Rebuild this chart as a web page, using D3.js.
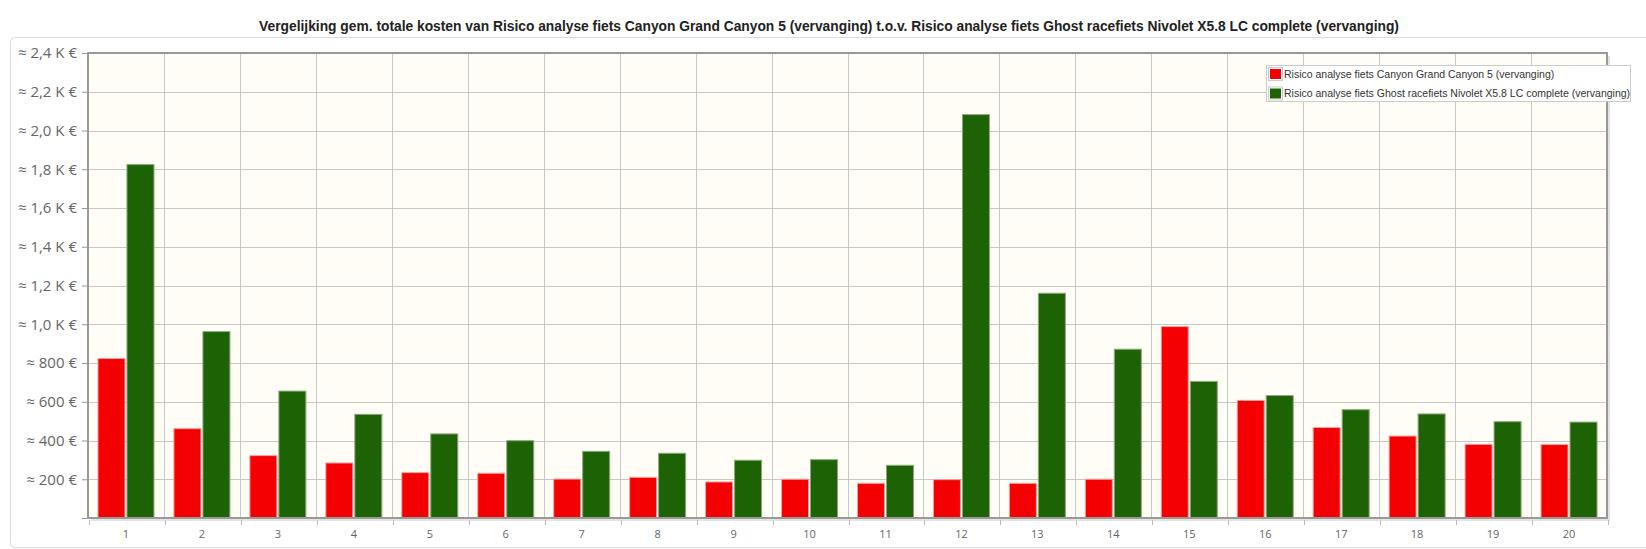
<!DOCTYPE html>
<html>
<head>
<meta charset="utf-8">
<title>Vergelijking gem. totale kosten</title>
<style>
  body { margin: 0; background: #fff; }
  text { font-family: "Liberation Sans", Arial, sans-serif; }
</style>
</head>
<body>
<script src="https://cdn.jsdelivr.net/npm/d3@7/dist/d3.min.js"></script>
<script>
// data
const categories = ["1","2","3","4","5","6","7","8","9","10","11","12","13","14","15","16","17","18","19","20"];
const canyon = [823, 461, 322, 284, 234, 231, 201, 210, 186, 200, 179, 198, 179, 200, 988, 607, 467, 423, 380, 379];
const ghost  = [1824, 962, 655, 535, 434, 399, 344, 334, 298, 301, 272, 2082, 1160, 871, 705, 632, 559, 537, 497, 495];
const seriesNames = [
  "Risico analyse fiets Canyon Grand Canyon 5 (vervanging)",
  "Risico analyse fiets Ghost racefiets Nivolet X5.8 LC complete (vervanging)"
];
const yTicks = [200, 400, 600, 800, 1000, 1200, 1400, 1600, 1800, 2000, 2200, 2400];
const yTickLabels = ["≈ 200 €", "≈ 400 €", "≈ 600 €", "≈ 800 €", "≈ 1,0 K €", "≈ 1,2 K €", "≈ 1,4 K €",
                     "≈ 1,6 K €", "≈ 1,8 K €", "≈ 2,0 K €", "≈ 2,2 K €", "≈ 2,4 K €"];
const title = "Vergelijking gem. totale kosten van Risico analyse fiets Canyon Grand Canyon 5 (vervanging) t.o.v. Risico analyse fiets Ghost racefiets Nivolet X5.8 LC complete (vervanging)";

const colors = ["#f40000", "#1d6205"];
const strokes = ["#f7a0a0", "#8aa97c"];

const W = 1646, H = 549;
const plot = {left: 88, right: 1607, top: 53, bottom: 518};

const svg = d3.select("body").append("svg")
  .attr("width", W)
  .attr("height", H);

// outer frame
svg.append("rect")
  .attr("x", 10.5).attr("y", 37.5)
  .attr("width", W + 20).attr("height", 510)
  .attr("rx", 4)
  .attr("fill", "none")
  .attr("stroke", "#dcdcdc");

// title
svg.append("text")
  .attr("x", 829).attr("y", 31)
  .attr("text-anchor", "middle")
  .style("font-size", "13.8px")
  .style("font-weight", "bold")
  .attr("fill", "#222")
  .text(title);

const x = d3.scaleBand().domain(categories).range([plot.left, plot.right]);
const y = d3.scaleLinear().domain([0, 2400]).range([plot.bottom, plot.top]);

// plot background + shadow
svg.append("rect")
  .attr("x", plot.left + 3).attr("y", plot.top + 3)
  .attr("width", plot.right - plot.left).attr("height", plot.bottom - plot.top)
  .attr("fill", "#e4e4e4");
svg.append("rect")
  .attr("x", plot.left).attr("y", plot.top)
  .attr("width", plot.right - plot.left).attr("height", plot.bottom - plot.top)
  .attr("fill", "#fffdf6");

// grid
const grid = svg.append("g").attr("stroke", "#c8c8c8").attr("stroke-width", 1);
grid.selectAll("line.h")
  .data(yTicks.slice(0, -1))
  .enter().append("line")
  .attr("x1", plot.left).attr("x2", plot.right)
  .attr("y1", d => Math.round(y(d)) + 0.5).attr("y2", d => Math.round(y(d)) + 0.5);
grid.selectAll("line.v")
  .data(categories.slice(1))
  .enter().append("line")
  .attr("y1", plot.top).attr("y2", plot.bottom)
  .attr("x1", d => Math.round(x(d)) + 0.5).attr("x2", d => Math.round(x(d)) + 0.5);

// bars
const barW = 27, gap = 2;
const pad = (x.bandwidth() - 2 * barW - gap) / 2;
[canyon, ghost].forEach((vals, s) => {
  svg.append("g").selectAll("rect")
    .data(vals)
    .enter().append("rect")
    .attr("x", (d, i) => x(categories[i]) + pad + s * (barW + gap))
    .attr("width", barW)
    .attr("y", d => y(d))
    .attr("height", d => y(0) - y(d))
    .attr("fill", colors[s])
    .attr("stroke", strokes[s])
    .attr("stroke-width", 1);
});

// plot border
svg.append("rect")
  .attr("x", plot.left).attr("y", plot.top)
  .attr("width", plot.right - plot.left).attr("height", plot.bottom - plot.top)
  .attr("fill", "none")
  .attr("stroke", "#999")
  .attr("stroke-width", 2);

// y axis
const yAxis = svg.append("g")
  .attr("transform", "translate(" + plot.left + ",0)")
  .call(d3.axisLeft(y).tickValues([0].concat(yTicks)).tickSize(6).tickPadding(5)
    .tickFormat((d, i) => i === 0 ? "" : yTickLabels[i - 1]));
yAxis.select(".domain").remove();
yAxis.selectAll(".tick line").attr("stroke", "#999");
yAxis.selectAll(".tick text")
  .style("font-family", "'Open Sans', sans-serif")
  .style("font-size", "15px")
  .attr("fill", "#666");

// x axis
const xAxis = svg.append("g")
  .attr("transform", "translate(0," + plot.bottom + ")")
  .call(d3.axisBottom(x).tickSize(0).tickPadding(12));
xAxis.select(".domain").remove();
xAxis.selectAll(".tick text")
  .style("font-family", "'Open Sans', sans-serif")
  .style("font-size", "11px")
  .attr("fill", "#666");
svg.append("g").selectAll("line")
  .data(categories.concat(["end"]))
  .enter().append("line")
  .attr("x1", (d, i) => i < categories.length ? Math.round(x(d)) + 1.5 : plot.right + 1.5)
  .attr("x2", (d, i) => i < categories.length ? Math.round(x(d)) + 1.5 : plot.right + 1.5)
  .attr("y1", plot.bottom + 2).attr("y2", plot.bottom + 7)
  .attr("stroke", "#bbb");

// legend
const legend = svg.append("g").attr("transform", "translate(1266,65)");
legend.append("rect")
  .attr("x", 0.5).attr("y", 0.5).attr("width", 364).attr("height", 36)
  .attr("fill", "#fff").attr("stroke", "#ccc");
seriesNames.forEach((name, i) => {
  const row = legend.append("g").attr("transform", "translate(2," + (2 + i * 19.5) + ")");
  row.append("rect")
    .attr("x", 0.5).attr("y", 0.5).attr("width", 14).attr("height", 13)
    .attr("fill", "#fff").attr("stroke", "#ccc");
  row.append("rect")
    .attr("x", 2).attr("y", 2).attr("width", 11).attr("height", 10)
    .attr("fill", colors[i]);
  row.append("text")
    .attr("x", 16).attr("y", 10.5)
    .style("font-size", "10.5px")
    .attr("fill", "#333")
    .text(name);
});
</script>
</body>
</html>
